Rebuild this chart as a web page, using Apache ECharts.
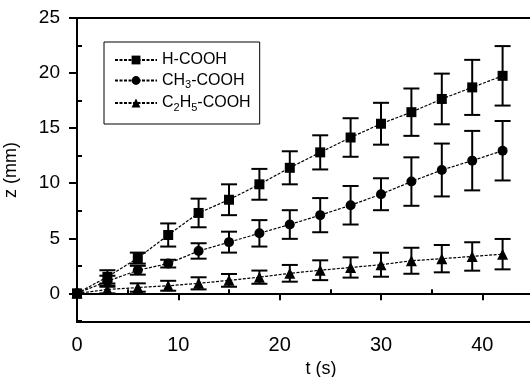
<!DOCTYPE html>
<html>
<head>
<meta charset="utf-8">
<script src="https://cdn.jsdelivr.net/npm/echarts@6/dist/echarts.min.js"></script>
<style>
  html, body { margin: 0; padding: 0; background: #fff; }
  #chart { width: 530px; height: 377px; }
</style>
</head>
<body>
<div id="chart"></div>
<script>
// time points (s)
const tSec = [0, 3, 6, 9, 12, 15, 18, 21, 24, 27, 30, 33, 36, 39, 42];

// penetration depth z (mm) and error half-widths
const hcooh = [0, 1.5, 3.2, 5.3, 7.3, 8.5, 9.9, 11.4, 12.8, 14.15, 15.4, 16.45, 17.65, 18.7, 19.75];
const hcoohErr = [0, 0.6, 0.5, 1.05, 1.3, 1.4, 1.4, 1.5, 1.55, 1.75, 1.9, 2.15, 2.3, 2.5, 2.7];
const ch3 = [0, 1.1, 2.1, 2.7, 3.85, 4.65, 5.45, 6.25, 7.1, 8.0, 9.0, 10.15, 11.2, 12.05, 12.95];
const ch3Err = [0, 0.5, 0.4, 0.35, 0.7, 0.95, 1.2, 1.3, 1.55, 1.75, 1.45, 2.2, 2.4, 2.7, 2.7];
const c2h5 = [0, 0.35, 0.53, 0.69, 0.91, 1.18, 1.47, 1.82, 2.1, 2.35, 2.6, 2.96, 3.15, 3.35, 3.56];
const c2h5Err = [0, 0.35, 0.38, 0.45, 0.55, 0.58, 0.6, 0.76, 0.9, 0.92, 1.09, 1.18, 1.24, 1.29, 1.38];

const xMajor = [0, 10, 20, 30, 40];
const xMinor = [5, 15, 25, 35];
const yMajor = [0, 5, 10, 15, 20, 25];
const yMinor = [-2.5, 2.5, 7.5, 12.5, 17.5, 22.5];

const seriesNames = ['H-COOH', 'CH3-COOH', 'C2H5-COOH'];
const legendRich = {
  'H-COOH': '{n|H-COOH}',
  'CH3-COOH': '{n|CH}{s|3}{n|-COOH}',
  'C2H5-COOH': '{n|C}{s|2}{n|H}{s|5}{n|-COOH}'
};

const font = 'Liberation Sans, Arial, sans-serif';

const pts = (ys) => tSec.map((t, i) => [t, ys[i]]);
const bars = (ys, es) => tSec.map((t, i) => [t, ys[i] - es[i], ys[i] + es[i]]);

const renderErr = (params, api) => {
  const x = api.value(0);
  const lo = api.value(1);
  const hi = api.value(2);
  if (hi - lo <= 0) return null;
  const a = api.coord([x, lo]);
  const b = api.coord([x, hi]);
  const w = 8;
  const st = { stroke: '#000', lineWidth: 2 };
  return {
    type: 'group',
    children: [
      { type: 'line', shape: { x1: a[0], y1: a[1], x2: b[0], y2: b[1] }, style: st },
      { type: 'line', shape: { x1: a[0] - w, y1: a[1], x2: a[0] + w, y2: a[1] }, style: st },
      { type: 'line', shape: { x1: b[0] - w, y1: b[1], x2: b[0] + w, y2: b[1] }, style: st }
    ]
  };
};

const lineSeries = (name, symbol, size, ys) => ({
  name: name,
  type: 'line',
  data: pts(ys),
  symbol: symbol,
  symbolSize: size,
  itemStyle: { color: '#000' },
  lineStyle: { color: '#000', width: 1.2, type: [3, 1.5] },
  z: 3
});

const errSeries = (ys, es) => ({
  type: 'custom',
  renderItem: renderErr,
  data: bars(ys, es),
  encode: { x: 0, y: [1, 2] },
  z: 2,
  silent: true
});

const axisBase = {
  type: 'value',
  splitLine: { show: false },
  axisLine: { lineStyle: { color: '#000', width: 2 } }
};

const option = {
  animation: false,
  backgroundColor: '#fff',
  textStyle: { fontFamily: font },
  grid: {
    left: 77, top: 18, right: -3, bottom: 55,
    outerBoundsMode: 'none',
    containLabel: false,
    show: true, borderColor: '#000', borderWidth: 2, backgroundColor: 'transparent'
  },
  legend: {
    data: seriesNames,
    left: 104, top: 42,
    orient: 'vertical',
    padding: [10, 9, 11, 10],
    itemGap: 4.5,
    itemWidth: 42,
    itemHeight: 11,
    borderColor: '#000',
    borderWidth: 1,
    borderRadius: 0,
    formatter: (n) => legendRich[n],
    textStyle: {
      color: '#000',
      fontFamily: font,
      fontSize: 16,
      rich: {
        n: { fontSize: 16, fontFamily: font, color: '#000', lineHeight: 20, verticalAlign: 'middle' },
        s: { fontSize: 11, fontFamily: font, color: '#000', lineHeight: 11, verticalAlign: 'bottom' }
      }
    }
  },
  xAxis: [
    Object.assign({}, axisBase, {
      min: 0, max: 45,
      name: 't (s)',
      nameLocation: 'middle',
      nameGap: 35,
      nameTextStyle: { fontSize: 18, color: '#000', fontFamily: font, padding: [0, 0, 0, 32] },
      axisTick: { customValues: xMajor, length: 7, lineStyle: { color: '#000', width: 2 } },
      axisLabel: { customValues: xMajor, fontSize: 20, color: '#000', margin: 13, fontFamily: font }
    }),
    Object.assign({}, axisBase, {
      min: 0, max: 45,
      axisLine: { show: false },
      axisTick: { customValues: xMinor, length: 4, lineStyle: { color: '#000', width: 2 } },
      axisLabel: { show: false }
    })
  ],
  yAxis: [
    Object.assign({}, axisBase, {
      min: -2.6, max: 25,
      name: 'z (mm)',
      nameLocation: 'middle',
      nameGap: 57,
      nameTextStyle: { fontSize: 18, color: '#000', fontFamily: font },
      axisTick: { customValues: yMajor, length: 8, lineStyle: { color: '#000', width: 2 } },
      axisLabel: { customValues: yMajor, fontSize: 19, color: '#000', margin: 17, fontFamily: font }
    }),
    Object.assign({}, axisBase, {
      min: -2.6, max: 25,
      axisLine: { show: false },
      axisTick: { customValues: yMinor, length: 5, lineStyle: { color: '#000', width: 2 } },
      axisLabel: { show: false }
    })
  ],
  series: [
    errSeries(hcooh, hcoohErr),
    errSeries(ch3, ch3Err),
    errSeries(c2h5, c2h5Err),
    lineSeries('H-COOH', 'rect', 10, hcooh),
    lineSeries('CH3-COOH', 'circle', 10, ch3),
    lineSeries('C2H5-COOH', 'triangle', 11, c2h5)
  ]
};

const myChart = echarts.init(document.getElementById('chart'));
myChart.setOption(option);
</script>
</body>
</html>
